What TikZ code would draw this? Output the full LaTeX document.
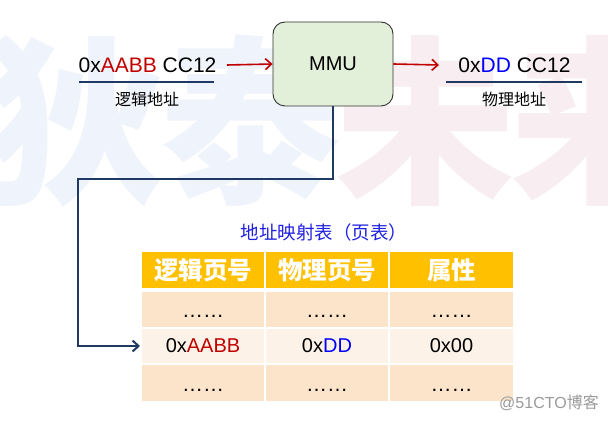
\documentclass[tikz,border=0pt]{standalone}
\usepackage{fontspec}
\setmainfont{Liberation Sans}
\newfontfamily\cjk{Noto Sans CJK SC}
\usetikzlibrary{arrows.meta}
\definecolor{navy}{HTML}{1F3864}
\definecolor{dred}{HTML}{C00000}
\definecolor{mblue}{HTML}{0000FF}
\definecolor{tblue}{HTML}{2020E0}
\definecolor{mmufill}{HTML}{E2EFD9}
\definecolor{hdr}{HTML}{FFC000}
\definecolor{rowa}{HTML}{FCE4CA}
\definecolor{rowb}{HTML}{FDF2E7}
\definecolor{wmb}{HTML}{EFF3FB}
\definecolor{wmp}{HTML}{F8EEF1}
\definecolor{wmgray}{HTML}{9A9A9A}
\begin{document}
\begin{tikzpicture}[x=1pt,y=-1pt,
  wm/.style={inner sep=0pt,font=\cjk\bfseries\fontsize{180}{180}\selectfont},
  lat/.style={inner sep=0pt,font=\fontsize{21}{24}\selectfont},
  caption/.style={inner sep=0pt,font=\cjk\fontsize{16}{18}\selectfont},
  uline/.style={navy,line width=2pt},
  redarr/.style={dred,line width=1.6pt,-{Straight Barb[length=6pt,width=11pt]}},
  navarr/.style={navy,line width=2pt,-{Straight Barb[length=6pt,width=11pt]}},
  mmubox/.style={draw=black!80,line width=0.9pt,fill=mmufill,rounded corners=12pt,
     minimum width=120pt,minimum height=84pt,inner sep=0pt,font=\fontsize{20}{24}\selectfont},
  cell/.style={draw=white,line width=2pt,inner sep=0pt,minimum width=#1,anchor=center},
  hcell/.style={cell=#1,fill=hdr,minimum height=38pt,text=white,font=\cjk\bfseries\fontsize{24.5}{27}\selectfont},
  rcell/.style={cell=#1,minimum height=37pt,font=\fontsize{20}{24}\selectfont},
  ctext/.style={inner sep=0pt,font=\fontsize{21}{24}\selectfont,anchor=base}
]
\useasboundingbox (0,0) rectangle (608,422);
\fill[white] (0,0) rectangle (608,422);
% watermark
\node[wm,text=wmb] (w1) at (75,121) {狄};
\node[wm,text=wmb] (w2) at (250,121) {泰};
\node[wm,text=wmp] (w3) at (425,121) {未};
\node[wm,text=wmp] (w4) at (600,121) {来};
% MMU
\node[mmubox] (mmu) at (333,64) {\raisebox{-2pt}{MMU}};
% logical address
\node[lat] (la) at (147.5,65) {0x\textcolor{dred}{AABB} CC12};
\coordinate (laL) at (79,82);
\coordinate (laR) at (214,82);
\draw[uline] (laL) -- (laR);
\node[caption] (lac) at (147,99) {逻辑地址};
\coordinate (a1) at (227,65);
\draw[redarr] (a1) -- (mmu.west);
% physical address
\node[lat] (pa) at (514.5,65) {0x\textcolor{mblue}{DD} CC12};
\coordinate (paL) at (446,82);
\coordinate (paR) at (582,82);
\draw[uline] (paL) -- (paR);
\node[caption] (pac) at (514,99) {物理地址};
\coordinate (a2) at (439,65);
\draw[redarr] (mmu.east) -- (a2);
% table title
\node[inner sep=0pt,text=tblue,font=\cjk\fontsize{18.5}{21}\selectfont] (title) at (324,232) {地址映射表（页表）};
% table
\node[hcell=124pt] (h1) at (203,270) {逻辑页号};
\node[hcell=124pt] (h2) at (327,270) {物理页号};
\node[hcell=125pt] (h3) at (451.5,270) {属性};
\node[rcell=124pt,fill=rowa] (r1a) at (203,309.5) {};
\node[rcell=124pt,fill=rowa] (r1b) at (327,309.5) {};
\node[rcell=125pt,fill=rowa] (r1c) at (451.5,309.5) {};
\node[rcell=124pt,fill=rowb,minimum height=36pt] (r2a) at (203,346) {0x\textcolor{dred}{AABB}};
\node[rcell=124pt,fill=rowb,minimum height=36pt] (r2b) at (327,346) {0x\textcolor{mblue}{DD}};
\node[rcell=125pt,fill=rowb,minimum height=36pt] (r2c) at (451.5,346) {0x00};
\node[rcell=124pt,fill=rowa,minimum height=38pt] (r3a) at (203,383) {};
\node[rcell=124pt,fill=rowa,minimum height=38pt] (r3b) at (327,383) {};
\node[rcell=125pt,fill=rowa,minimum height=38pt] (r3c) at (451.5,383) {};
\node[ctext] (d1a) at (203,317) {……};
\node[ctext] (d1b) at (327,317) {……};
\node[ctext] (d1c) at (451.5,317) {……};
\node[ctext] (d3a) at (203,391) {……};
\node[ctext] (d3b) at (327,391) {……};
\node[ctext] (d3c) at (451.5,391) {……};
% connector MMU -> table
\coordinate (c1) at (78,179);
\draw[navarr] (mmu.south) |- (c1) |- (r2a.west);
% credit
\node[inner sep=0pt,text=wmgray,font=\fontsize{16}{18}\selectfont] (cr) at (549,403) {@51CTO{\cjk 博客}};
\end{tikzpicture}
\end{document}
